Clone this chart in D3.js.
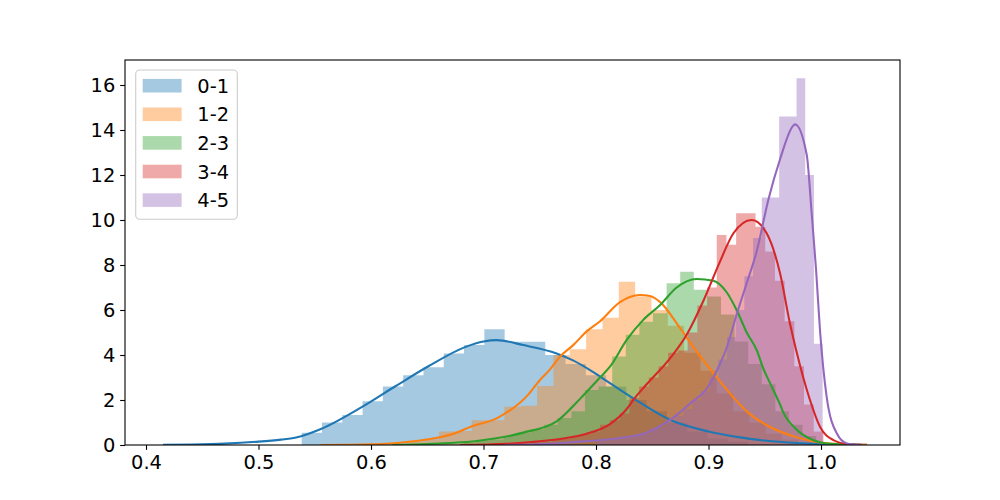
<!DOCTYPE html>
<html><head><meta charset="utf-8">
<script src="https://cdn.jsdelivr.net/npm/d3@7"></script>
<style>body{margin:0;background:#fff} svg{display:block} text{font-family:"DejaVu Sans",sans-serif}</style>
</head><body><svg id="chart" width="1000" height="500"></svg>
<script>
const seriesNames = ["0-1", "1-2", "2-3", "3-4", "4-5"];
const colors = ["#1f77b4", "#ff7f0e", "#2ca02c", "#d62728", "#9467bd"];
const binStarts = [0.5384, 0.6315, 0.6814, 0.7435, 0.8004];
const binWidths = [0.01804, 0.01452, 0.01209, 0.008622, 0.007733];

const hist01 = [0.55,1.0,1.33,1.95,2.6,3.1,3.45,4.07,4.44,5.14,4.59,4.59,4.0,3.6,3.1,2.6,2.0,1.5,1.0,0.6,0.3,0.15];
const hist12 = [0.15,0.25,0.6,0.62,1.1,1.1,1.7,1.75,2.62,4.0,4.25,5.14,5.65,7.25,6.6,6.0,5.3,4.1,3.3,2.3,1.5,1.0,0.5,0.25];
const hist23 = [0.1,0.2,0.25,0.4,0.55,0.7,0.9,1.2,1.5,2.44,2.6,3.93,4.9,5.48,5.85,7.19,7.7,6.9,6.6,5.8,4.6,3.6,2.7,1.5,0.9,0.4];
const hist34 = [0.1,0.15,0.25,0.3,0.4,0.5,0.6,0.9,1.1,1.4,2.1,2.6,3.0,3.5,4.1,4.2,5.0,6.2,7.0,9.33,8.9,10.3,10.3,9.7,8.6,7.3,5.5,3.5,1.8,0.6];
const hist45 = [0.15,0.2,0.25,0.3,0.4,0.5,0.7,0.8,1.0,1.3,1.6,2.0,2.4,3.0,3.8,4.8,6.0,7.5,9.2,11.0,11.0,14.6,14.6,16.3,12.0,4.5];

const kde01 = [[0.416,0.005],[0.44,0.02],[0.47,0.06],[0.5,0.15],[0.52,0.24],[0.5324,0.32],[0.556,0.72],[0.5917,1.68],[0.6213,2.6],[0.651,3.5],[0.6836,4.35],[0.7,4.6],[0.7117,4.66],[0.7354,4.44],[0.765,4.07],[0.78,3.75],[0.7947,3.33],[0.8036,3.04],[0.8329,2.08],[0.8667,1.1],[0.9,0.6],[0.9262,0.35],[0.95,0.2],[0.978,0.09],[1.0,0.04],[1.02,0.015],[1.04,0.005]];
const kde12 = [[0.556,0.0],[0.58,0.01],[0.6,0.03],[0.617,0.07],[0.6465,0.22],[0.6747,0.52],[0.688,0.8],[0.713,1.22],[0.74,2.25],[0.7502,2.89],[0.759,3.35],[0.768,3.93],[0.78,4.45],[0.7917,5.05],[0.8036,5.5],[0.8213,6.35],[0.839,6.67],[0.848,6.62],[0.857,6.35],[0.8747,5.2],[0.8895,4.15],[0.9043,3.2],[0.919,2.3],[0.935,1.45],[0.9547,0.8],[0.978,0.35],[0.996,0.13],[1.017,0.04],[1.04,0.005]];
const kde23 = [[0.62,0.0],[0.65,0.04],[0.67,0.09],[0.694,0.18],[0.7354,0.55],[0.765,1.05],[0.7858,2.05],[0.8036,3.0],[0.8124,3.48],[0.8273,4.67],[0.842,5.56],[0.857,6.22],[0.8717,7.0],[0.8895,7.38],[0.9043,7.3],[0.916,6.8],[0.925,6.0],[0.934,5.0],[0.943,4.2],[0.9487,3.4],[0.9547,2.75],[0.9636,1.8],[0.9665,1.45],[0.978,0.7],[0.993,0.22],[1.008,0.05],[1.03,0.005]];
const kde34 = [[0.68,0.0],[0.72,0.05],[0.747,0.15],[0.7724,0.3],[0.7917,0.5],[0.8124,0.93],[0.8273,1.6],[0.8331,2.0],[0.845,2.7],[0.8658,3.85],[0.8806,4.9],[0.8954,6.4],[0.9102,8.15],[0.922,9.4],[0.9384,10.0],[0.9517,9.41],[0.9636,7.63],[0.9724,5.4],[0.978,4.2],[0.9902,2.0],[0.9991,0.81],[1.011,0.22],[1.025,0.03],[1.035,0.005]];
const kde45 = [[0.72,0.0],[0.76,0.05],[0.7858,0.15],[0.82,0.3],[0.845,0.55],[0.8747,1.45],[0.8836,1.85],[0.8984,2.5],[0.9102,3.6],[0.916,4.3],[0.925,5.8],[0.934,7.2],[0.9428,8.6],[0.9532,10.9],[0.9636,12.7],[0.9754,14.2],[0.9769,14.25],[0.9873,12.9],[0.9917,10.3],[0.9956,7.8],[0.9991,5.1],[1.005,2.15],[1.014,0.52],[1.023,0.07],[1.035,0.005]];

const xTicks = [0.4, 0.5, 0.6, 0.7, 0.8, 0.9, 1.0];
const yTicks = [0, 2, 4, 6, 8, 10, 12, 14, 16];
const xDomain = [0.38133, 1.07022];
const yDomain = [0, 17.111];

const hists = [hist01, hist12, hist23, hist34, hist45];
const kdes = [kde01, kde12, kde23, kde34, kde45];

const L = 125, R = 900, T = 60, B = 445;
const svg = d3.select("#chart");
const x = d3.scaleLinear().domain(xDomain).range([L, R]);
const y = d3.scaleLinear().domain(yDomain).range([B, T]);
const FS = 19.44;

svg.append("defs").append("clipPath").attr("id", "clip")
  .append("rect").attr("x", L).attr("y", T).attr("width", R - L).attr("height", B - T);

const plot = svg.append("g").attr("clip-path", "url(#clip)");
const area = d3.area().curve(d3.curveStepAfter).x(d => x(d[0])).y0(y(0)).y1(d => y(d[1]));
const line = d3.line().curve(d3.curveMonotoneX).x(d => x(d[0])).y(d => y(d[1]));

// histograms (patches, lower z-order)
hists.forEach((h, s) => {
  const pts = h.map((v, i) => [binStarts[s] + i * binWidths[s], v]);
  pts.push([binStarts[s] + h.length * binWidths[s], h[h.length - 1]]);
  plot.append("path").attr("d", area(pts)).attr("fill", colors[s]).attr("fill-opacity", 0.4);
});
// KDE lines on top
kdes.forEach((k, s) => {
  plot.append("path").attr("d", line(k)).attr("fill", "none")
    .attr("stroke", colors[s]).attr("stroke-width", 2.08).attr("stroke-linejoin", "round").attr("stroke-linecap", "square");
});

// axes
const xAxis = d3.axisBottom(x).tickValues(xTicks).tickFormat(d3.format(".1f")).tickSize(4.86).tickPadding(4.86);
const yAxis = d3.axisLeft(y).tickValues(yTicks).tickFormat(d3.format("d")).tickSize(4.86).tickPadding(4.86);
const gx = svg.append("g").attr("transform", `translate(0,${B})`).call(xAxis);
const gy = svg.append("g").attr("transform", `translate(${L},0)`).call(yAxis);
[gx, gy].forEach(g => {
  g.select(".domain").remove();
  g.selectAll("line").attr("stroke", "#000").attr("stroke-width", 1.1);
  g.selectAll("text").attr("font-size", FS).attr("fill", "#000").attr("font-family", "DejaVu Sans");
});
svg.append("rect").attr("x", L).attr("y", T).attr("width", R - L).attr("height", B - T)
  .attr("fill", "none").attr("stroke", "#000").attr("stroke-width", 1.1);

// legend
const lg = svg.append("g");
lg.append("rect").attr("x", 135.7).attr("y", 70).attr("width", 101.6).attr("height", 149.3)
  .attr("rx", 4).attr("fill", "#fff").attr("fill-opacity", 0.8).attr("stroke", "#cccccc").attr("stroke-width", 1.1);
seriesNames.forEach((n, i) => {
  const cy = 85.7 + i * 28.6;
  lg.append("rect").attr("x", 142.7).attr("y", cy - 6.8).attr("width", 38.9).attr("height", 13.6)
    .attr("fill", colors[i]).attr("fill-opacity", 0.4);
  lg.append("text").attr("x", 197.3).attr("y", cy + 7).attr("font-size", FS).attr("fill", "#000").text(n);
});
</script></body></html>
